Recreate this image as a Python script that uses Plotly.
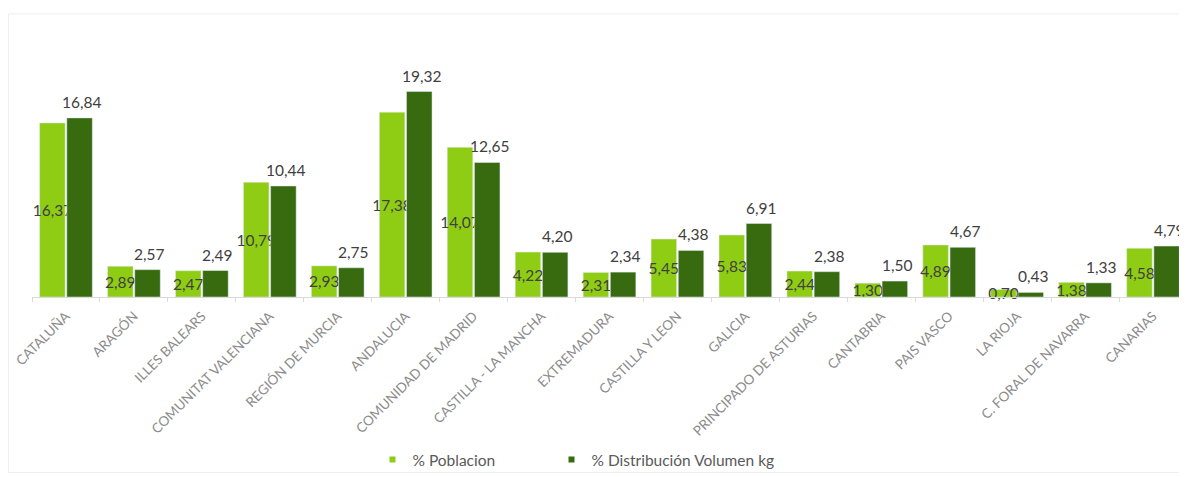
import plotly.graph_objects as go

categories = ["CATALUÑA", "ARAGÓN", "ILLES BALEARS", "COMUNITAT VALENCIANA", "REGIÓN DE MURCIA",
              "ANDALUCIA", "COMUNIDAD DE MADRID", "CASTILLA - LA MANCHA", "EXTREMADURA",
              "CASTILLA Y LEON", "GALICIA", "PRINCIPADO DE ASTURIAS", "CANTABRIA", "PAIS VASCO",
              "LA RIOJA", "C. FORAL DE NAVARRA", "CANARIAS"]
poblacion = [16.37, 2.89, 2.47, 10.79, 2.93, 17.38, 14.07, 4.22, 2.31, 5.45, 5.83, 2.44, 1.30, 4.89, 0.70, 1.38, 4.58]
volumen = [16.84, 2.57, 2.49, 10.44, 2.75, 19.32, 12.65, 4.20, 2.34, 4.38, 6.91, 2.38, 1.50, 4.67, 0.43, 1.33, 4.79]

series_names = ["% Poblacion", "% Distribución Volumen kg"]
light = "#8fcc14"
dark = "#386b10"
label_col = "#404040"
FONT = "Lato, 'Liberation Sans', sans-serif"
LBL_SIZE = 15.5

fig = go.Figure()
fig.add_trace(go.Bar(
    x=categories, y=poblacion, name=series_names[0], marker_color=light,
    texttemplate="%{y:.2f}", textposition="inside", insidetextanchor="middle",
    textangle=0, textfont=dict(family=FONT, size=LBL_SIZE, color=label_col),
    constraintext="none", showlegend=False, cliponaxis=False,
))
fig.add_trace(go.Bar(
    x=categories, y=volumen, name=series_names[1], marker_color=dark,
    showlegend=False, cliponaxis=False,
))
# labels above the dark bars
annotations = []
for c, v in zip(categories, volumen):
    annotations.append(dict(
        x=c, y=v, xref="x", yref="y", text=f"{v:.2f}".replace(".", ","),
        showarrow=False, yanchor="bottom", xanchor="center", xshift=16, yshift=5,
        font=dict(family=FONT, size=LBL_SIZE, color=label_col),
    ))
# legend-only entries with small square symbols, each in its own legend box
for nm, col, lg in zip(series_names, [light, dark], ["legend", "legend2"]):
    fig.add_trace(go.Scatter(
        x=[None], y=[None], mode="markers", name=nm, legend=lg,
        marker=dict(symbol="square", size=6, color=col),
    ))

leg_common = dict(orientation="h", y=-0.698, xanchor="left", yanchor="middle",
                  font=dict(family=FONT, size=15.5, color="#595959"),
                  itemwidth=30, bgcolor="rgba(0,0,0,0)")

fig.update_layout(
    width=1179, height=469,
    margin=dict(l=24, r=0, t=55, b=176),
    paper_bgcolor="white", plot_bgcolor="white",
    barmode="group", bargap=0.2, bargroupgap=0.06,
    separators=",.",
    uniformtext=dict(minsize=LBL_SIZE, mode="show"),
    font=dict(family=FONT, color="#595959"),
    showlegend=True,
    legend=dict(x=0.2948, **leg_common),
    legend2=dict(x=0.4498, **leg_common),
    xaxis=dict(
        tickangle=-45, tickfont=dict(family=FONT, size=13.5, color="#8c8c8c"),
        showline=True, linecolor="#d9d9d9", linewidth=1,
        ticks="outside", tickson="boundaries", ticklen=4, tickcolor="#d9d9d9",
        ticklabelstandoff=5,
        showgrid=False, zeroline=False, automargin=False,
    ),
    yaxis=dict(range=[0, 22], visible=False, showgrid=False, zeroline=False),
    annotations=annotations,
    shapes=[dict(type="rect", xref="paper", yref="paper",
                 x0=-0.0203, x1=1.01, y0=-0.75, y1=1.21,
                 line=dict(color="#eeeeee", width=1), layer="below")],
)

fig.write_html("out.html")
